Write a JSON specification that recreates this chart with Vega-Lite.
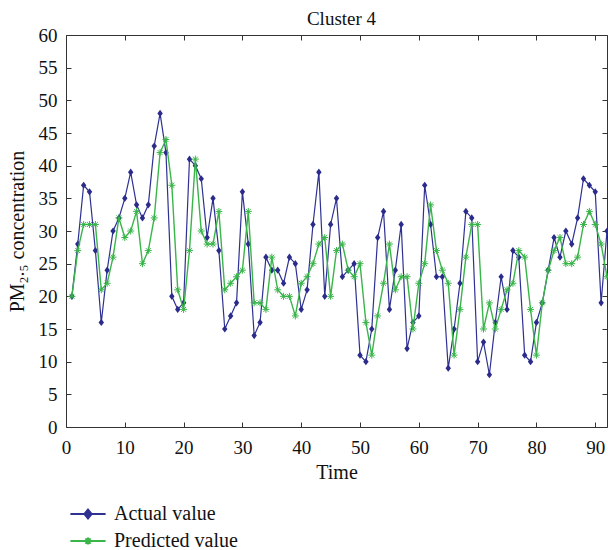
{
  "$schema": "https://vega.github.io/schema/vega-lite/v6.json",
  "width": 541,
  "height": 392,
  "autosize": "none",
  "padding": {"left": 66, "top": 35, "right": 1, "bottom": 123},
  "background": "white",
  "title": {"text": "Cluster 4", "font": "Liberation Serif", "fontSize": 19, "fontWeight": "normal", "color": "#111", "offset": -3, "dx": 5},
  "datasets": {
    "main": [
      {"t":1,"Actual value":20,"Predicted value":20},{"t":2,"Actual value":28,"Predicted value":27},{"t":3,"Actual value":37,"Predicted value":31},{"t":4,"Actual value":36,"Predicted value":31},{"t":5,"Actual value":27,"Predicted value":31},{"t":6,"Actual value":16,"Predicted value":21},{"t":7,"Actual value":24,"Predicted value":22},{"t":8,"Actual value":30,"Predicted value":26},{"t":9,"Actual value":32,"Predicted value":32},{"t":10,"Actual value":35,"Predicted value":29},
      {"t":11,"Actual value":39,"Predicted value":30},{"t":12,"Actual value":34,"Predicted value":33},{"t":13,"Actual value":32,"Predicted value":25},{"t":14,"Actual value":34,"Predicted value":27},{"t":15,"Actual value":43,"Predicted value":32},{"t":16,"Actual value":48,"Predicted value":42},{"t":17,"Actual value":42,"Predicted value":44},{"t":18,"Actual value":20,"Predicted value":37},{"t":19,"Actual value":18,"Predicted value":21},{"t":20,"Actual value":19,"Predicted value":18},
      {"t":21,"Actual value":41,"Predicted value":27},{"t":22,"Actual value":40,"Predicted value":41},{"t":23,"Actual value":38,"Predicted value":30},{"t":24,"Actual value":29,"Predicted value":28},{"t":25,"Actual value":35,"Predicted value":28},{"t":26,"Actual value":27,"Predicted value":33},{"t":27,"Actual value":15,"Predicted value":21},{"t":28,"Actual value":17,"Predicted value":22},{"t":29,"Actual value":19,"Predicted value":23},{"t":30,"Actual value":36,"Predicted value":24},
      {"t":31,"Actual value":28,"Predicted value":33},{"t":32,"Actual value":14,"Predicted value":19},{"t":33,"Actual value":16,"Predicted value":19},{"t":34,"Actual value":26,"Predicted value":18},{"t":35,"Actual value":24,"Predicted value":26},{"t":36,"Actual value":24,"Predicted value":21},{"t":37,"Actual value":22,"Predicted value":20},{"t":38,"Actual value":26,"Predicted value":20},{"t":39,"Actual value":25,"Predicted value":17},{"t":40,"Actual value":18,"Predicted value":22},
      {"t":41,"Actual value":21,"Predicted value":23},{"t":42,"Actual value":31,"Predicted value":25},{"t":43,"Actual value":39,"Predicted value":28},{"t":44,"Actual value":20,"Predicted value":29},{"t":45,"Actual value":31,"Predicted value":20},{"t":46,"Actual value":35,"Predicted value":27},{"t":47,"Actual value":23,"Predicted value":28},{"t":48,"Actual value":24,"Predicted value":24},{"t":49,"Actual value":25,"Predicted value":23},{"t":50,"Actual value":11,"Predicted value":25},
      {"t":51,"Actual value":10,"Predicted value":16},{"t":52,"Actual value":15,"Predicted value":11},{"t":53,"Actual value":29,"Predicted value":17},{"t":54,"Actual value":33,"Predicted value":22},{"t":55,"Actual value":18,"Predicted value":28},{"t":56,"Actual value":24,"Predicted value":21},{"t":57,"Actual value":31,"Predicted value":23},{"t":58,"Actual value":12,"Predicted value":23},{"t":59,"Actual value":16,"Predicted value":15},{"t":60,"Actual value":17,"Predicted value":22},
      {"t":61,"Actual value":37,"Predicted value":25},{"t":62,"Actual value":31,"Predicted value":34},{"t":63,"Actual value":23,"Predicted value":27},{"t":64,"Actual value":23,"Predicted value":24},{"t":65,"Actual value":9,"Predicted value":22},{"t":66,"Actual value":15,"Predicted value":11},{"t":67,"Actual value":22,"Predicted value":18},{"t":68,"Actual value":33,"Predicted value":26},{"t":69,"Actual value":32,"Predicted value":31},{"t":70,"Actual value":10,"Predicted value":31},
      {"t":71,"Actual value":13,"Predicted value":15},{"t":72,"Actual value":8,"Predicted value":19},{"t":73,"Actual value":16,"Predicted value":15},{"t":74,"Actual value":23,"Predicted value":18},{"t":75,"Actual value":18,"Predicted value":21},{"t":76,"Actual value":27,"Predicted value":22},{"t":77,"Actual value":26,"Predicted value":27},{"t":78,"Actual value":11,"Predicted value":26},{"t":79,"Actual value":10,"Predicted value":18},{"t":80,"Actual value":16,"Predicted value":11},
      {"t":81,"Actual value":19,"Predicted value":19},{"t":82,"Actual value":24,"Predicted value":24},{"t":83,"Actual value":29,"Predicted value":27},{"t":84,"Actual value":26,"Predicted value":29},{"t":85,"Actual value":30,"Predicted value":25},{"t":86,"Actual value":28,"Predicted value":25},{"t":87,"Actual value":32,"Predicted value":26},{"t":88,"Actual value":38,"Predicted value":31},{"t":89,"Actual value":37,"Predicted value":33},{"t":90,"Actual value":36,"Predicted value":31},
      {"t":91,"Actual value":19,"Predicted value":28},{"t":92,"Actual value":30,"Predicted value":23}
    ]
  },
  "data": {"name": "main"},
  "transform": [{"fold": ["Actual value", "Predicted value"], "as": ["series", "value"]}],
  "config": {
    "view": {"stroke": null},
    "font": "Liberation Serif",
    "axis": {
      "domainColor": "#333", "tickColor": "#333", "domainWidth": 1, "tickWidth": 1, "tickSize": -5,
      "labelFont": "Liberation Serif", "labelFontSize": 19, "labelColor": "#111",
      "titleFont": "Liberation Serif", "titleFontSize": 20, "titleFontWeight": "normal", "titleColor": "#111",
      "grid": false
    }
  },
  "layer": [
    {
      "transform": [{"filter": "datum.series === 'Actual value'"}],
      "mark": {"type": "line", "strokeWidth": 1.2},
      "encoding": {
        "x": {"field": "t", "type": "quantitative", "scale": {"domain": [0, 92], "nice": false, "zero": false},
              "axis": {"orient": "bottom", "values": [0,10,20,30,40,50,60,70,80,90], "title": "Time", "labelPadding": 16, "titlePadding": 5, "labelFlush": false}},
        "y": {"field": "value", "type": "quantitative", "scale": {"domain": [0, 60], "nice": false},
              "axis": {"orient": "left", "values": [0,5,10,15,20,25,30,35,40,45,50,55,60], "title": "PM₂.₅ concentration", "labelPadding": 14, "titlePadding": 11}},
        "color": {"field": "series", "type": "nominal",
                  "scale": {"domain": ["Actual value", "Predicted value"], "range": ["#2e3192", "#39b54a"]},
                  "legend": {
                    "orient": "none", "legendX": 12, "legendY": 469, "title": null, "direction": "vertical",
                    "symbolSize": 64, "symbolStrokeWidth": 2, "labelOffset": 16, "rowPadding": 7,
                    "labelFont": "Liberation Serif", "labelFontSize": 20, "labelColor": "#111",
                    "encode": {"symbols": {"update": {
                      "shape": {"signal": "datum.value === 'Actual value' ? 'M-4.4,0H4.4M0,-1.1L0.9,0L0,1.1L-0.9,0Z' : 'M-4.4,0H4.4M-0.9,0H0.9M0,-0.9V0.9M-0.65,-0.65L0.65,0.65M-0.65,0.65L0.65,-0.65'"},
                      "fill": {"signal": "datum.value === 'Actual value' ? '#2e3192' : 'transparent'"},
                      "stroke": {"signal": "datum.value === 'Actual value' ? '#2e3192' : '#39b54a'"},
                      "strokeWidth": {"value": 2},
                      "opacity": {"value": 1}
                    }}}
                  }}
      }
    },
    {
      "transform": [{"filter": "datum.series === 'Actual value'"}],
      "mark": {"type": "point", "shape": "M0,-1.2L0.9,0L0,1.2L-0.9,0Z", "filled": true, "size": 36, "color": "#2b2b8c", "opacity": 1},
      "encoding": {
        "x": {"field": "t", "type": "quantitative", "axis": {"orient": "top", "values": [0,10,20,30,40,50,60,70,80,90], "labels": false, "title": null}},
        "y": {"field": "value", "type": "quantitative", "axis": {"orient": "right", "values": [0,5,10,15,20,25,30,35,40,45,50,55,60], "labels": false, "title": null}}
      }
    },
    {
      "transform": [{"filter": "datum.series === 'Predicted value'"}],
      "mark": {"type": "line", "strokeWidth": 1.4},
      "encoding": {
        "x": {"field": "t", "type": "quantitative", "axis": null},
        "y": {"field": "value", "type": "quantitative", "axis": null},
        "color": {"field": "series", "type": "nominal"}
      }
    },
    {
      "transform": [{"filter": "datum.series === 'Predicted value'"}],
      "mark": {"type": "point", "shape": "M-1,0H1M0,-1V1M-0.7,-0.7L0.7,0.7M-0.7,0.7L0.7,-0.7", "filled": false, "size": 49, "color": "#39b54a", "strokeWidth": 1, "opacity": 1},
      "encoding": {
        "x": {"field": "t", "type": "quantitative", "axis": null},
        "y": {"field": "value", "type": "quantitative", "axis": null}
      }
    }
  ],
  "resolve": {"axis": {"x": "independent", "y": "independent"}}
}
